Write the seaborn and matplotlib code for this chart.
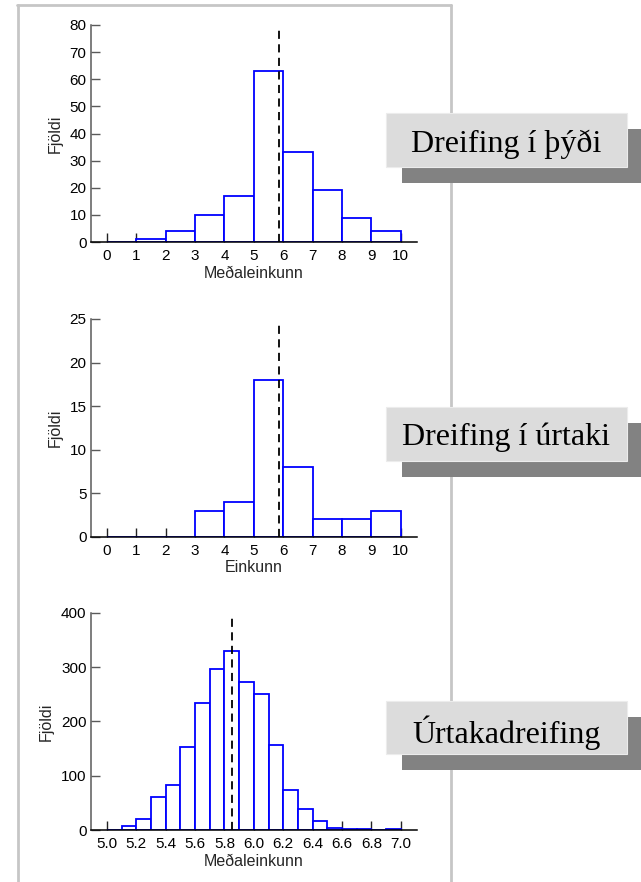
import numpy as np
import pandas as pd
import matplotlib
matplotlib.use("Agg")
import matplotlib.pyplot as plt
import seaborn as sns
from matplotlib.patches import Rectangle
from matplotlib.lines import Line2D

# ---------------- data ----------------
pop_bin_left = [0, 1, 2, 3, 4, 5, 6, 7, 8, 9]
pop_counts = [0, 1, 4, 10, 17, 63, 33, 19, 9, 4]

sample_bin_left = [0, 1, 2, 3, 4, 5, 6, 7, 8, 9]
sample_counts = [0, 0, 0, 3, 4, 18, 8, 2, 2, 3]

means_bin_left = [5.0, 5.1, 5.2, 5.3, 5.4, 5.5, 5.6, 5.7, 5.8, 5.9,
                  6.0, 6.1, 6.2, 6.3, 6.4, 6.5, 6.6, 6.7, 6.8, 6.9]
means_counts = [0, 7, 20, 61, 83, 152, 234, 297, 330, 272,
                251, 156, 74, 38, 17, 4, 2, 1, 0, 1]

mean_value = 5.85

grade_ticks = [0, 1, 2, 3, 4, 5, 6, 7, 8, 9, 10]
means_ticks = [5.0, 5.2, 5.4, 5.6, 5.8, 6.0, 6.2, 6.4, 6.6, 6.8, 7.0]
pop_yticks = [0, 10, 20, 30, 40, 50, 60, 70, 80]
sample_yticks = [0, 5, 10, 15, 20, 25]
means_yticks = [0, 100, 200, 300, 400]

xlabels = ["Meðaleinkunn", "Einkunn", "Meðaleinkunn"]
ylabel = "Fjöldi"
titles = ["Dreifing í þýði", "Dreifing í úrtaki", "Úrtakadreifing"]

# ---------------- style ----------------
sns.set_style("white")
plt.rcParams["font.family"] = ["Liberation Sans", "DejaVu Sans"]

W, H = 641, 882
fig = plt.figure(figsize=(W / 100, H / 100), dpi=100)
fig.patch.set_facecolor("white")


def fx(px):
    return px / W


def fy(py):
    return 1 - py / H


# light gray frame (drawn first, under everything)
frame_kw = dict(color="#c6c6c6", lw=2.0, transform=fig.transFigure, zorder=0)
fig.add_artist(Line2D([fx(18), fx(18)], [fy(5), fy(900)], **frame_kw))
fig.add_artist(Line2D([fx(17), fx(451)], [fy(5), fy(5)], **frame_kw))
fig.add_artist(Line2D([fx(451), fx(451)], [fy(5), fy(900)], **frame_kw))

# axes rectangles in pixel coordinates: (left, top, right, bottom)
axes_px = [(90.7, 25, 417, 242), (90.7, 319, 417, 536.7), (90.7, 612.7, 417, 830)]

panels = [
    (pop_bin_left, pop_counts, 1.0, grade_ticks, pop_yticks, [str(t) for t in grade_ticks]),
    (sample_bin_left, sample_counts, 1.0, grade_ticks, sample_yticks, [str(t) for t in grade_ticks]),
    (means_bin_left, means_counts, 0.1, means_ticks, means_yticks, [f"{t:.1f}" for t in means_ticks]),
]

for i, ((left, counts, bw, xt, yt, xtl), (l, t, r, b)) in enumerate(zip(panels, axes_px)):
    ax = fig.add_axes([fx(l), fy(b), (r - l) / W, (b - t) / H])
    ax.set_facecolor("none")
    left_arr = np.array(left, dtype=float)
    edges = [float(e) for e in np.round(np.append(left_arr, left_arr[-1] + bw), 2)]
    df = pd.DataFrame({"value": left_arr + bw / 2, "count": np.array(counts, dtype=float)})
    sns.histplot(data=df, x="value", weights="count", bins=edges, ax=ax,
                 color="white", edgecolor="#0000ff", linewidth=1.3, alpha=1.0)
    ymax = yt[-1]
    ax.set_ylim(0, ymax)
    span = xt[-1] - xt[0]
    ax.set_xlim(xt[0] - 0.0555 * span, xt[-1] + 0.0555 * span)
    ax.axvline(mean_value, ymin=0, ymax=0.983, color="black", lw=1.3,
               ls=(0, (4.5, 3)), zorder=5)
    ax.set_xticks(xt)
    ax.set_xticklabels(xtl)
    ax.set_yticks(yt)
    ax.set_yticklabels([str(v) for v in yt])
    for s in ["top", "right"]:
        ax.spines[s].set_visible(False)
    ax.spines["left"].set_color("#5a5a5a")
    ax.spines["left"].set_linewidth(1.1)
    ax.spines["bottom"].set_color("black")
    ax.spines["bottom"].set_linewidth(1.1)
    ax.tick_params(axis="y", left=True, right=False, direction="in", length=6.5,
                   width=1.0, color="#5a5a5a", labelsize=11, pad=3, labelcolor="black")
    ax.tick_params(axis="x", bottom=True, top=False, direction="in", length=6.5,
                   width=1.0, color="#222222", labelsize=11, pad=5, labelcolor="black")
    ax.set_xlabel(xlabels[i], fontsize=11.5, labelpad=2)
    ax.set_ylabel(ylabel, fontsize=11.5, labelpad=5)
    ax.grid(False)

# label boxes with shadows
box_px = [(386, 113, 627, 167, 151.7), (386, 407, 627, 461, 444.5), (386, 701, 627, 754, 743.3)]
for (l, t, r, b, base), title in zip(box_px, titles):
    fig.add_artist(Rectangle((fx(l + 16), fy(b + 16)), (r - l - 2) / W, (b - t) / H,
                             transform=fig.transFigure, facecolor="#828282",
                             edgecolor="none", zorder=2))
    fig.add_artist(Rectangle((fx(l), fy(b)), (r - l) / W, (b - t) / H,
                             transform=fig.transFigure, facecolor="#dcdcdc",
                             edgecolor="#ececec", lw=0.8, zorder=3))
    fig.text(fx((l + r) / 2), fy(base), title, ha="center", va="baseline",
             fontsize=23, family=["Liberation Serif", "DejaVu Serif"],
             color="black", zorder=4)

fig.savefig("out.png", dpi=100)
